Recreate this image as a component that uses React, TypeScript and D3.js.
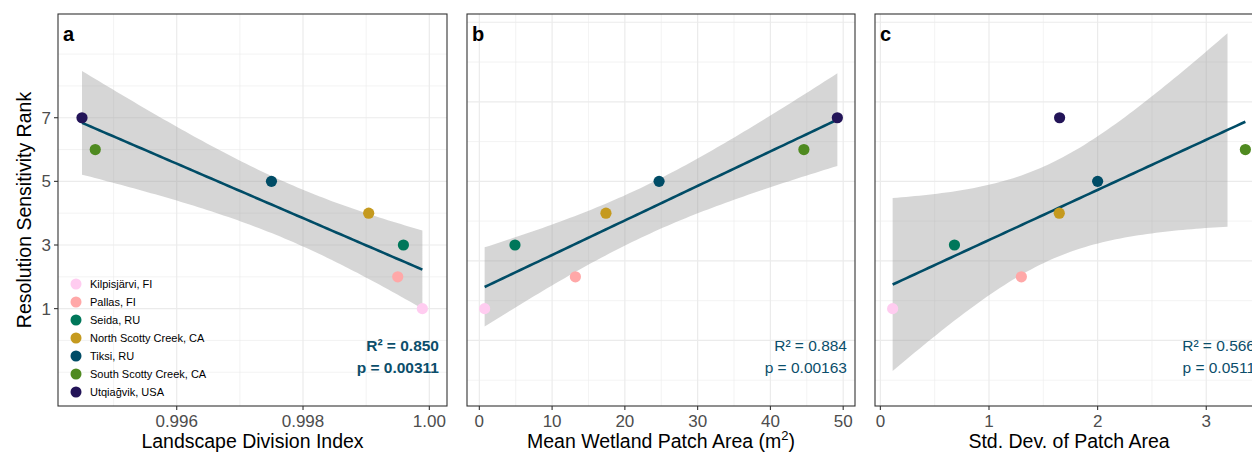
import React from "react";
import * as d3 from "d3";

// site order as in the legend (rank 1..7)
const sites = [
  "Kilpisjärvi, FI",
  "Pallas, FI",
  "Seida, RU",
  "North Scotty Creek, CA",
  "Tiksi, RU",
  "South Scotty Creek, CA",
  "Utqiağvik, USA",
];
const siteColors = ["#FFCCF0", "#FFA8A8", "#00775A", "#C59A1F", "#004C66", "#4F8A20", "#231458"];
const rank = [1, 2, 3, 4, 5, 6, 7];

const divisionIndex = [0.99989, 0.9995, 0.99959, 0.99904, 0.9975, 0.99471, 0.9945];
const meanPatchArea = [0.73, 13.2, 4.9, 17.4, 24.7, 44.6, 49.2];
const sdPatchArea = [0.113, 1.298, 0.682, 1.647, 2.0, 3.36, 1.65];

const panelLetters = ["a", "b", "c"];
const r2Labels = ["0.850", "0.884", "0.566"];
const pLabels = ["0.00311", "0.00163", "0.0511"];

const yLimits: [number, number] = [-1.5, 9.7];
const yBreaksA = [1, 3, 5, 7];
const yBreaksBC = [0, 2.5, 5, 7.5, 10];

const xLimitsA: [number, number] = [0.9944, 1.0];
const xBreaksA = [0.996, 0.998, 1.0];
const xLabelsA = ["0.996", "0.998", "1.00"];
const xBreaksB = [0, 10, 20, 30, 40, 50];
const xBreaksC = [0, 1, 2, 3];

const FONT = "'Liberation Sans', Arial, Helvetica, sans-serif";
const lineColor = "#004C66";
const textColor = "#0B4E6B";

const W = 1252;
const H = 455;
const top = 14;
const bottom = 406;
const panelX = [
  [58, 447],
  [467, 855],
  [875, 1263],
];

const expand = (lim: [number, number], f = 0.05): [number, number] => {
  const d = (lim[1] - lim[0]) * f;
  return [lim[0] - d, lim[1] + d];
};

// ggplot style minor breaks: extended majors plus midpoints
const minorBreaks = (b: number[], dom: [number, number]) => {
  const step = b[1] - b[0];
  const ext = [b[0] - step, ...b, b[b.length - 1] + step];
  const out: number[] = [...ext];
  for (let i = 0; i < ext.length - 1; i++) out.push((ext[i] + ext[i + 1]) / 2);
  return out.filter((v) => v >= dom[0] && v <= dom[1] && !b.some((m) => Math.abs(m - v) < 1e-9));
};

// lm with 95% confidence band (df = 5)
const fitLm = (xs: number[], ys: number[]) => {
  const n = xs.length;
  const mx = d3.mean(xs)!;
  const my = d3.mean(ys)!;
  let sxx = 0, sxy = 0, syy = 0;
  xs.forEach((x, i) => {
    sxx += (x - mx) ** 2;
    sxy += (x - mx) * (ys[i] - my);
    syy += (ys[i] - my) ** 2;
  });
  const slope = sxy / sxx;
  const b0 = my - slope * mx;
  const s = Math.sqrt((syy - slope * sxy) / (n - 2));
  const t = 2.5706;
  const [lo, hi] = d3.extent(xs) as [number, number];
  return d3.range(80).map((i) => {
    const x = lo + (i * (hi - lo)) / 79;
    const fit = b0 + slope * x;
    const se = s * Math.sqrt(1 / n + (x - mx) ** 2 / sxx);
    return { x, fit, ymin: fit - t * se, ymax: fit + t * se };
  });
};

const yScale = d3.scaleLinear().domain(expand(yLimits)).range([bottom, top]);

type PanelProps = {
  idx: number;
  xs: number[];
  xDomain: [number, number];
  xBreaks: number[];
  xLabels: string[];
  yBreaks: number[];
  title: React.ReactNode;
  boldStats: boolean;
};

const Panel = ({ idx, xs, xDomain, xBreaks, xLabels, yBreaks, title, boldStats }: PanelProps) => {
  const [x0, x1] = panelX[idx];
  const x = d3.scaleLinear().domain(xDomain).range([x0, x1]);
  const yDom = yScale.domain() as [number, number];
  const fit = fitLm(xs, rank);
  const band = fit.filter((d) => d.ymax <= yLimits[1] && d.ymin >= yLimits[0]);
  const area = d3
    .area<(typeof fit)[0]>()
    .x((d) => x(d.x))
    .y0((d) => yScale(d.ymin))
    .y1((d) => yScale(d.ymax));
  const line = d3
    .line<(typeof fit)[0]>()
    .x((d) => x(d.x))
    .y((d) => yScale(d.fit));
  const clipId = `clip-${idx}`;
  return (
    <g>
      <defs>
        <clipPath id={clipId}>
          <rect x={x0} y={top} width={x1 - x0} height={bottom - top} />
        </clipPath>
      </defs>
      <g clipPath={`url(#${clipId})`}>
        {minorBreaks(yBreaks, yDom).map((v) => (
          <line key={"ym" + v} x1={x0} x2={x1} y1={yScale(v)} y2={yScale(v)} stroke="#EBEBEB" strokeWidth={0.6} />
        ))}
        {minorBreaks(xBreaks, xDomain).map((v) => (
          <line key={"xm" + v} x1={x(v)} x2={x(v)} y1={top} y2={bottom} stroke="#EBEBEB" strokeWidth={0.6} />
        ))}
        {yBreaks.map((v) => (
          <line key={"y" + v} x1={x0} x2={x1} y1={yScale(v)} y2={yScale(v)} stroke="#EBEBEB" strokeWidth={1.2} />
        ))}
        {xBreaks.map((v) => (
          <line key={"x" + v} x1={x(v)} x2={x(v)} y1={top} y2={bottom} stroke="#EBEBEB" strokeWidth={1.2} />
        ))}
        <path d={area(band) ?? ""} fill="#999999" fillOpacity={0.4} />
        <path d={line(fit) ?? ""} fill="none" stroke={lineColor} strokeWidth={2.6} />
        {xs.map((v, i) => (
          <circle key={i} cx={x(v)} cy={yScale(rank[i])} r={5.6} fill={siteColors[i]} />
        ))}
      </g>
      <rect x={x0} y={top} width={x1 - x0} height={bottom - top} fill="none" stroke="#333333" strokeWidth={1.1} />
      <text x={x0 + 5} y={41} fontFamily={FONT} fontWeight="bold" fontSize={20} fill="#000">
        {panelLetters[idx]}
      </text>
      <text x={x1 - 8} y={351} textAnchor="end" fontFamily={FONT} fontSize={15.5} fontWeight={boldStats ? "bold" : "normal"} fill={textColor}>
        {`R² = ${r2Labels[idx]}`}
      </text>
      <text x={x1 - 8} y={373} textAnchor="end" fontFamily={FONT} fontSize={15.5} fontWeight={boldStats ? "bold" : "normal"} fill={textColor}>
        {`p = ${pLabels[idx]}`}
      </text>
      {xBreaks.map((v, i) => (
        <g key={"xt" + v}>
          <line x1={x(v)} x2={x(v)} y1={bottom} y2={bottom + 4} stroke="#333333" strokeWidth={1.1} />
          <text x={x(v)} y={427} textAnchor="middle" fontFamily={FONT} fontSize={17} fill="#4D4D4D">
            {xLabels[i]}
          </text>
        </g>
      ))}
      <text x={(x0 + x1) / 2} y={448} textAnchor="middle" fontFamily={FONT} fontSize={19.5} fill="#000">
        {title}
      </text>
    </g>
  );
};

export default function App() {
  const ext = (v: number[]) => expand(d3.extent(v) as [number, number]);
  return (
    <div style={{ position: "absolute", left: 0, top: 0, width: W, height: H, overflow: "hidden", background: "#fff" }}>
      <svg width={W} height={H} style={{ display: "block" }}>
        <rect width={W} height={H} fill="#fff" />
        <Panel
          idx={0}
          xs={divisionIndex}
          xDomain={expand(xLimitsA)}
          xBreaks={xBreaksA}
          xLabels={xLabelsA}
          yBreaks={yBreaksA}
          title="Landscape Division Index"
          boldStats={true}
        />
        <Panel
          idx={1}
          xs={meanPatchArea}
          xDomain={ext(meanPatchArea)}
          xBreaks={xBreaksB}
          xLabels={xBreaksB.map(String)}
          yBreaks={yBreaksBC}
          title={
            <>
              Mean Wetland Patch Area (m
              <tspan fontSize={13} dy={-8}>2</tspan>
              <tspan dy={8}>)</tspan>
            </>
          }
          boldStats={false}
        />
        <Panel
          idx={2}
          xs={sdPatchArea}
          xDomain={ext(sdPatchArea)}
          xBreaks={xBreaksC}
          xLabels={xBreaksC.map(String)}
          yBreaks={yBreaksBC}
          title="Std. Dev. of Patch Area"
          boldStats={false}
        />
        {/* y axis of panel a */}
        {yBreaksA.map((v) => (
          <g key={"ya" + v}>
            <line x1={54} x2={58} y1={yScale(v)} y2={yScale(v)} stroke="#333333" strokeWidth={1.1} />
            <text x={51} y={yScale(v) + 6} textAnchor="end" fontFamily={FONT} fontSize={17} fill="#4D4D4D">
              {v}
            </text>
          </g>
        ))}
        <text
          transform={`translate(31,${(top + bottom) / 2}) rotate(-90)`}
          textAnchor="middle"
          fontFamily={FONT}
          fontSize={19.5}
          fill="#000"
        >
          Resolution Sensitivity Rank
        </text>
        {/* legend inside panel a */}
        {sites.map((s, i) => (
          <g key={s}>
            <circle cx={76} cy={284 + i * 18} r={5.5} fill={siteColors[i]} />
            <text x={90} y={284 + i * 18 + 4} fontFamily={FONT} fontSize={11} fill="#000">
              {s}
            </text>
          </g>
        ))}
      </svg>
    </div>
  );
}
